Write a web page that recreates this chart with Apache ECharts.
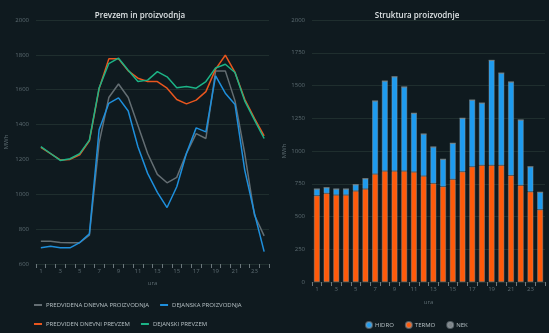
<!DOCTYPE html>
<html>
<head>
<meta charset="utf-8">
<script src="https://cdn.jsdelivr.net/npm/echarts@6/dist/echarts.min.js"></script>
<style>
html,body{margin:0;padding:0;background:#0f1a1f;}
#c{width:549px;height:333px;}
</style>
</head>
<body>
<div id="c"></div>
<script>
var hours = ['1','2','3','4','5','6','7','8','9','10','11','12','13','14','15','16','17','18','19','20','21','22','23','24'];
var predvidenaProizvodnja = [731, 731, 723, 722, 722, 766, 1295, 1555, 1633, 1555, 1395, 1234, 1114, 1066, 1097, 1235, 1348, 1320, 1708, 1708, 1536, 1235, 881, 761];
var dejanskaProizvodnja = [693, 702, 693, 693, 723, 773, 1370, 1522, 1553, 1478, 1273, 1120, 1011, 924, 1043, 1235, 1381, 1358, 1679, 1580, 1515, 1139, 891, 671];
var predvidenPrevzem = [1269, 1233, 1197, 1200, 1227, 1307, 1605, 1777, 1777, 1708, 1666, 1647, 1647, 1609, 1544, 1519, 1540, 1589, 1718, 1798, 1699, 1545, 1436, 1335];
var dejanskiPrevzem = [1273, 1234, 1194, 1204, 1233, 1311, 1610, 1750, 1781, 1712, 1647, 1655, 1704, 1674, 1611, 1618, 1609, 1647, 1725, 1746, 1699, 1536, 1427, 1320];
var hidro = [51, 43, 46, 46, 48, 79, 558, 687, 720, 642, 448, 321, 278, 209, 275, 408, 509, 475, 801, 704, 713, 499, 191, 133];
var termo = [659, 677, 664, 664, 695, 710, 824, 847, 847, 847, 840, 809, 753, 728, 784, 842, 880, 891, 891, 891, 814, 738, 689, 552];
var nek = [0, 0, 0, 0, 0, 0, 0, 0, 0, 0, 0, 0, 0, 0, 0, 0, 0, 0, 0, 0, 0, 0, 0, 0];

var FONT = 'Open Sans';
var labelColor = '#5d6c72';
var gridColor = '#1f2e2e';

function xAx(gi, nameGap){
  return {
    type:'category', gridIndex:gi, data:hours, boundaryGap:true,
    name:'ura', nameLocation:'middle', nameGap:nameGap,
    nameTextStyle:{color:labelColor, fontSize:6, fontFamily:FONT},
    axisLine:{show:true, lineStyle:{color:gridColor}},
    axisTick:{show:true, interval:0, length:4, lineStyle:{color:'#6b777c'}},
    axisLabel:{interval:1, color:labelColor, fontSize:6, margin:4, fontFamily:FONT},
    splitLine:{show:false}
  };
}
function yAx(gi, min, max, interval, nameGap){
  return {
    type:'value', gridIndex:gi, min:min, max:max, interval:interval,
    name:'MWh', nameLocation:'middle', nameGap:nameGap,
    nameTextStyle:{color:labelColor, fontSize:6, fontFamily:FONT},
    axisLine:{show:false}, axisTick:{show:false},
    axisLabel:{color:labelColor, fontSize:6, margin:7, fontFamily:FONT,
      formatter:function(v){return String(v);}},
    splitLine:{lineStyle:{color:gridColor, width:1}}
  };
}
function lineS(name, data, color){
  return {name:name, type:'line', xAxisIndex:0, yAxisIndex:0, data:data,
    showSymbol:false, symbol:'none', lineStyle:{color:color, width:1.5}, itemStyle:{color:color}};
}
function barS(name, data, color){
  return {name:name, type:'bar', stack:'p', xAxisIndex:1, yAxisIndex:1, data:data, barWidth:6,
    itemStyle:{color:color, borderColor:'rgba(150,160,165,0.5)', borderWidth:0.8}};
}

var chart = echarts.init(document.getElementById('c'), null, {renderer:'canvas'});
chart.setOption({
  backgroundColor:'#0f1a1f',
  animation:false,
  title:[
    {text:'Prevzem in proizvodnja', left:135, top:7, textAlign:'center',
     textStyle:{color:'#dde2e4', fontSize:8, fontWeight:600, fontFamily:FONT}},
    {text:'Struktura proizvodnje', left:412, top:7, textAlign:'center',
     textStyle:{color:'#dde2e4', fontSize:8, fontWeight:600, fontFamily:FONT}}
  ],
  grid:[
    {left:36, top:20, width:233, height:244},
    {left:312, top:20, width:233, height:262}
  ],
  xAxis:[xAx(0, 16), xAx(1, 17)],
  yAxis:[yAx(0, 600, 2000, 200, 27), yAx(1, 0, 2000, 250, 17)],
  legend:[
    {data:['PREDVIDENA DNEVNA PROIZVODNJA','DEJANSKA PROIZVODNJA'], left:29, top:297,
     icon:'rect', itemWidth:8, itemHeight:2, itemGap:11,
     textStyle:{color:'#b6c0c4', fontSize:6, fontFamily:FONT, padding:[0,0,0,-1]}},
    {data:['PREDVIDEN DNEVNI PREVZEM','DEJANSKI PREVZEM'], left:29, top:316,
     icon:'rect', itemWidth:8, itemHeight:2, itemGap:11,
     textStyle:{color:'#b6c0c4', fontSize:6, fontFamily:FONT, padding:[0,0,0,-1]}},
    {data:['HIDRO','TERMO','NEK'], left:360, top:316,
     icon:'circle', itemWidth:6, itemHeight:6, itemGap:11,
     textStyle:{color:'#b6c0c4', fontSize:6, fontFamily:FONT, padding:[0,0,0,-2]}}
  ],
  series:[
    lineS('PREDVIDENA DNEVNA PROIZVODNJA', predvidenaProizvodnja, '#646e73'),
    lineS('DEJANSKA PROIZVODNJA', dejanskaProizvodnja, '#1e8fdc'),
    lineS('PREDVIDEN DNEVNI PREVZEM', predvidenPrevzem, '#e8561e'),
    lineS('DEJANSKI PREVZEM', dejanskiPrevzem, '#1cb386'),
    barS('TERMO', termo, '#ff5a0a'),
    barS('HIDRO', hidro, '#1e9bef'),
    barS('NEK', nek, '#7d8488')
  ]
});
</script>
</body>
</html>
